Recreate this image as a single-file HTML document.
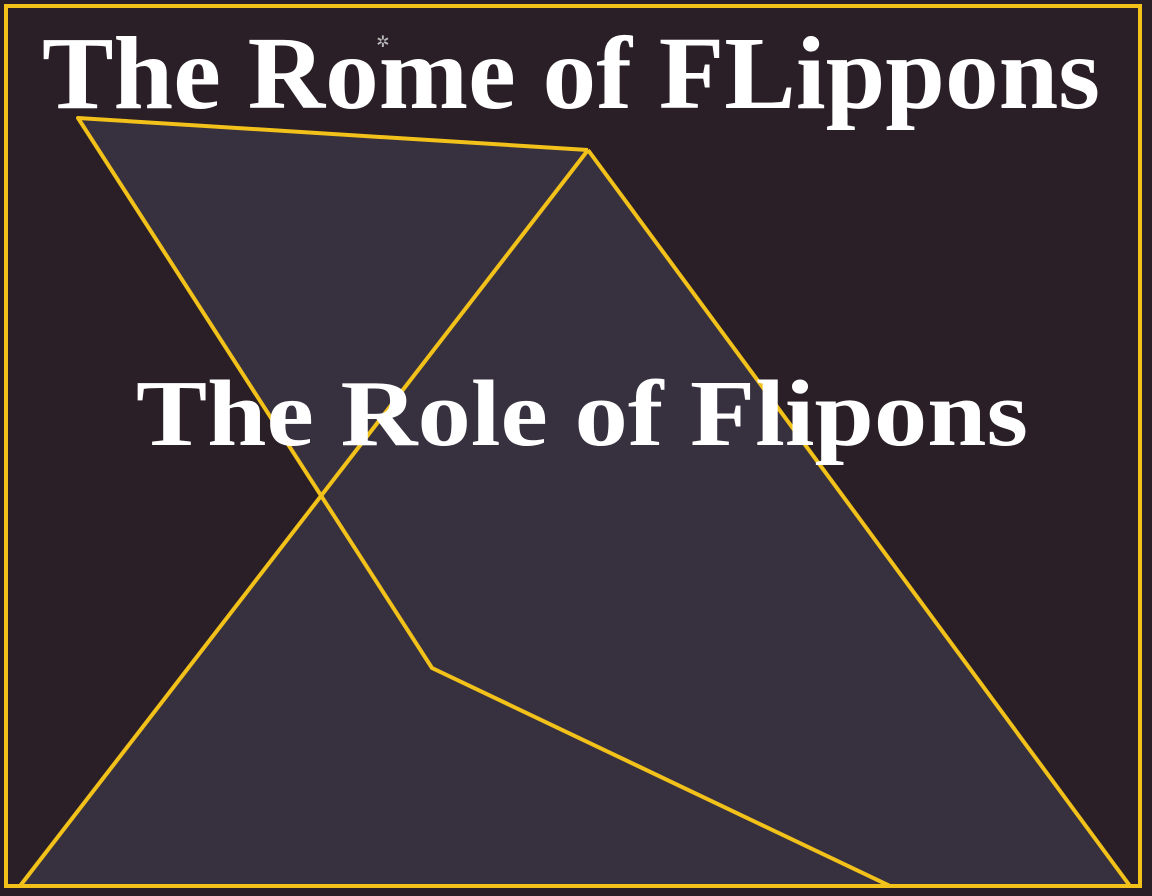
<!DOCTYPE html>
<html><head><meta charset="utf-8"><style>html,body{margin:0;padding:0;background:#2a1f26;}svg{display:block}</style></head>
<body>
<svg width="1152" height="896" viewBox="0 0 1152 896" xmlns="http://www.w3.org/2000/svg">
<rect width="1152" height="896" fill="#2a1f26"/>
<polygon points="78,118 588,150 1130,886 20,886 321,496" fill="#37313f"/>
<rect x="6" y="6" width="1134" height="880" fill="none" stroke="#f2c21a" stroke-width="4"/>
<g fill="none" stroke="#f2c21a" stroke-width="4" stroke-linejoin="round">
<polyline points="588,150 78,118 432,668 890,886"/>
<line x1="588" y1="150" x2="1130" y2="886"/>
<line x1="588" y1="150" x2="20" y2="886"/>
</g>
<g fill="#ffffff" font-family="'Liberation Serif', serif" font-weight="bold">
<text x="42" y="108" font-size="104" textLength="1058" lengthAdjust="spacingAndGlyphs">The Rome of FLippons</text>
<text x="136" y="445" font-size="94" textLength="892" lengthAdjust="spacingAndGlyphs">The Role of Flipons</text>
</g>
<text x="383" y="47" font-size="16" fill="#bbbbbb" font-family="'DejaVu Sans', sans-serif" text-anchor="middle">✲</text>
</svg>
</body></html>
